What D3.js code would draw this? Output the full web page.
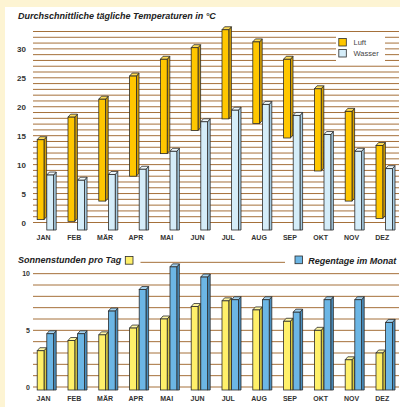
<!DOCTYPE html>
<html><head><meta charset="utf-8">
<script src="https://cdn.jsdelivr.net/npm/d3@7"></script>
<style>body{margin:0;background:#fff}svg{display:block}</style>
</head><body>
<script>
const months = ["JAN","FEB","MÄR","APR","MAI","JUN","JUL","AUG","SEP","OKT","NOV","DEZ"];
const airMax = [14.3,18.2,21.3,25.3,28.2,30.2,33.3,31.2,28.2,23.1,19.2,13.3];
const airMin = [0.5,0.2,3.7,8,11.9,15.9,17.9,17.1,14.6,8.9,3.7,0.7];
const water = [8.2,7.3,8.3,9.2,12.3,17.4,19.4,20.4,18.5,15.2,12.3,9.3];
const sun = [3.2,4.1,4.6,5.2,6.0,7.1,7.6,6.8,5.8,5.0,2.4,3.0];
const rain = [4.7,4.7,6.7,8.6,10.6,9.7,7.7,7.7,6.6,7.7,7.7,5.7];
const tempTicks = [0,5,10,15,20,25,30];
const sunTicks = [0,5,10];
const tempLegend = ["Luft","Wasser"];
const titleTemp = "Durchschnittliche tägliche Temperaturen in °C";
const titleSun = "Sonnenstunden pro Tag";
const titleRain = "Regentage im Monat";

const W = 400, H = 407;
const FONT = "'Liberation Sans', Arial, Helvetica, sans-serif";
const svg = d3.select("body").append("svg").attr("width", W).attr("height", H);
svg.append("rect").attr("width", W).attr("height", H).attr("fill", "#fdf4d3");
svg.append("rect").attr("x", 5).attr("y", 7).attr("width", W - 5).attr("height", H - 7).attr("fill", "#ffffff");

const x = d3.scaleBand().domain(months).range([28.1, 397.7]).paddingInner(0).paddingOuter(0);
const cx = m => x(m) + x.bandwidth() / 2;

const yT = d3.scaleLinear().domain([0, 33]).range([222.5, 31.5]);
const yS = d3.scaleLinear().domain([0, 10]).range([387, 273.67]);

const GRID = "#a5703a";
const OUT = "#2b2b2b";
const cAir = {front: "#ffc700", side: "#d59e00", top: "#ffdc55"};
const cWater = {front: "#d5edf9", side: "#a6cbe0", top: "#eef8fd"};
const cSun = {front: "#fff06a", side: "#d8c940", top: "#fff7a8"};
const cRain = {front: "#6cb6e5", side: "#4a8fbf", top: "#a4d3f1"};

const BW = 6.8, DX = 2.6, DY = 3;
function bar3d(g, x0, yTop, yBot, col, grounded) {
  const line = d3.line();
  g.append("path")
    .attr("d", line([[x0 + BW, yTop], [x0 + BW + DX, yTop - DY], [x0 + BW + DX, grounded ? yBot : yBot - DY], [x0 + BW, yBot]]) + "Z")
    .attr("fill", col.side).attr("stroke", OUT).attr("stroke-width", 0.8).attr("stroke-linejoin", "round");
  g.append("path")
    .attr("d", line([[x0, yTop], [x0 + DX, yTop - DY], [x0 + BW + DX, yTop - DY], [x0 + BW, yTop]]) + "Z")
    .attr("fill", col.top).attr("stroke", OUT).attr("stroke-width", 0.8).attr("stroke-linejoin", "round");
  g.append("rect").attr("x", x0).attr("y", yTop).attr("width", BW).attr("height", yBot - yTop)
    .attr("fill", col.front).attr("stroke", OUT).attr("stroke-width", 0.8);
}

// ---------- TOP CHART ----------
const gTop = svg.append("g");
gTop.append("text").attr("x", 18).attr("y", 19).text(titleTemp)
  .attr("font-family", FONT).attr("font-size", 9).attr("font-weight", "bold").attr("font-style", "italic").attr("fill", "#222");

gTop.selectAll("line.gt").data(d3.range(0, 34)).join("line")
  .attr("x1", 33).attr("x2", 399).attr("y1", d => yT(d)).attr("y2", d => yT(d))
  .attr("stroke", GRID).attr("stroke-width", 1);

gTop.selectAll("text.yt").data(tempTicks).join("text")
  .attr("x", 26).attr("y", d => yT(d) + 3).attr("text-anchor", "end").text(d => d)
  .attr("font-family", FONT).attr("font-size", 8).attr("font-weight", "bold").attr("fill", "#333");

const TB = 230;
months.forEach((m, i) => {
  const c = cx(m);
  bar3d(gTop, c - 6.3, yT(airMax[i]), yT(airMin[i]), cAir, false);
  bar3d(gTop, c + 3.3, yT(water[i]), TB, cWater, true);
});

gTop.selectAll("text.xt").data(months).join("text")
  .attr("x", d => cx(d)).attr("y", 240).attr("text-anchor", "middle").text(d => d)
  .attr("font-family", FONT).attr("font-size", 7).attr("font-weight", "bold").attr("fill", "#333");

// legend
const lg = gTop.append("g");
lg.append("rect").attr("x", 336).attr("y", 35).attr("width", 49).attr("height", 26.5).attr("fill", "#fff");
const legCols = [cAir.front, cWater.front];
tempLegend.forEach((t, i) => {
  lg.append("rect").attr("x", 338.8).attr("y", 38.5 + i * 11).attr("width", 7.5).attr("height", 7.5)
    .attr("fill", legCols[i]).attr("stroke", OUT).attr("stroke-width", 0.8);
  lg.append("text").attr("x", 353.5).attr("y", 45 + i * 11).text(t)
    .attr("font-family", FONT).attr("font-size", 7.5).attr("fill", "#444");
});

// ---------- BOTTOM CHART ----------
const gB = svg.append("g");
gB.selectAll("line.gs").data(d3.range(0, 12)).join("line")
  .attr("x1", 33).attr("x2", 399).attr("y1", d => yS(d)).attr("y2", d => yS(d))
  .attr("stroke", GRID).attr("stroke-width", 1);

// legend backgrounds
gB.append("rect").attr("x", 10).attr("y", 252).attr("width", 130.5).attr("height", 16).attr("fill", "#fff");
gB.append("rect").attr("x", 285).attr("y", 252).attr("width", 115).attr("height", 16).attr("fill", "#fff");

gB.append("text").attr("x", 18).attr("y", 263).text(titleSun)
  .attr("font-family", FONT).attr("font-size", 9).attr("font-weight", "bold").attr("font-style", "italic").attr("fill", "#222");
gB.append("rect").attr("x", 125.3).attr("y", 256.5).attr("width", 7.7).attr("height", 7.7)
  .attr("fill", cSun.front).attr("stroke", OUT).attr("stroke-width", 0.8);
gB.append("rect").attr("x", 295).attr("y", 256).attr("width", 7.5).attr("height", 7.7)
  .attr("fill", cRain.front).attr("stroke", OUT).attr("stroke-width", 0.8);
gB.append("text").attr("x", 308.3).attr("y", 263.5).text(titleRain)
  .attr("font-family", FONT).attr("font-size", 9).attr("font-weight", "bold").attr("font-style", "italic").attr("fill", "#222");

gB.selectAll("text.ys").data(sunTicks).join("text")
  .attr("x", 30).attr("y", d => yS(d) + 2.5).attr("text-anchor", "end").text(d => d)
  .attr("font-family", FONT).attr("font-size", 7).attr("font-weight", "bold").attr("fill", "#333");

const BB = 390;
months.forEach((m, i) => {
  const c = cx(m);
  bar3d(gB, c - 6.3, yS(sun[i]), BB, cSun, true);
  bar3d(gB, c + 3.3, yS(rain[i]), BB, cRain, true);
});

gB.selectAll("text.xs").data(months).join("text")
  .attr("x", d => cx(d)).attr("y", 400.5).attr("text-anchor", "middle").text(d => d)
  .attr("font-family", FONT).attr("font-size", 7).attr("font-weight", "bold").attr("fill", "#333");
</script>
</body></html>
